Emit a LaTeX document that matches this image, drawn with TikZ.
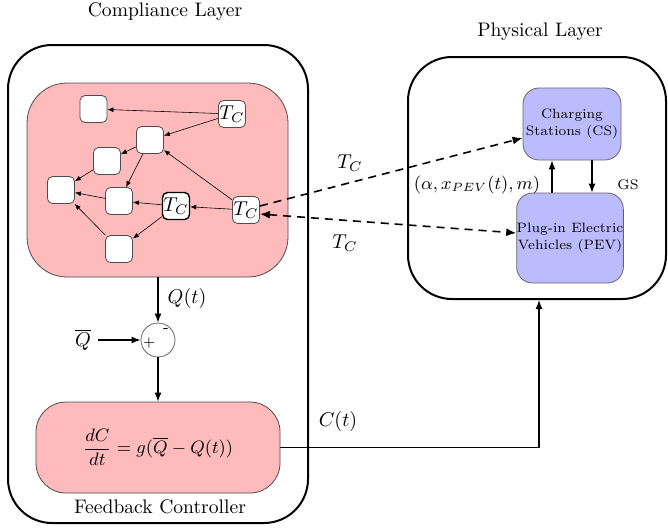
\documentclass[tikz,border=0pt]{standalone}
\usetikzlibrary{arrows.meta}
\definecolor{ctrlpink}{RGB}{255,187,187}
\definecolor{physblue}{RGB}{187,187,255}
\begin{document}
\begin{tikzpicture}[x=0.5pt, y=-0.5pt,
		layer/.style={draw, line width=1pt, rounded corners=22pt, inner sep=0pt},
		block/.style={draw=black!70, line width=0.4pt, fill=ctrlpink, inner sep=0pt},
		agent/.style={draw=black!70, line width=0.4pt, fill=white, rounded corners=2.5pt, minimum size=13.5pt, inner sep=0pt, font=\fontsize{10}{12}\selectfont},
		dev/.style={draw=black!60, line width=0.4pt, fill=physblue, rounded corners=8pt, align=center, inner sep=0pt, font=\fontsize{6.8}{8.4}\selectfont},
		link/.style={line width=0.3pt, -{Latex[length=3pt,width=2.4pt]}},
		flow/.style={line width=0.6pt, -{Latex[length=4.5pt,width=3.5pt]}},
		msg/.style={line width=0.8pt, dash pattern=on 4pt off 3pt},
		lbl/.style={font=\fontsize{10}{12}\selectfont},
		caption/.style={font=\fontsize{9.8}{12}\selectfont}]
	\useasboundingbox (0,0) rectangle (668,527);
	\node[caption] (complbl) at (165,12) {Compliance Layer};
	\node[caption] (physlbl) at (540,32) {Physical Layer};
	\node[layer, minimum width=150pt, minimum height=239pt] (comp) at (158,284) {};
	\node[layer, minimum width=129pt, minimum height=121pt] (phys) at (537,178) {};
	\node[block, rounded corners=20pt, minimum width=130.5pt, minimum height=97pt] (graph) at (157.5,180) {};
	\node[agent] (n1) at (93.5,109) {};
	\node[agent] (tc1) at (232,114) {$T_C$};
	\node[agent] (n2) at (150,140) {};
	\node[agent] (n3) at (107,161) {};
	\node[agent] (n4) at (61,190) {};
	\node[agent] (n5) at (119,201) {};
	\node[agent, draw=black, line width=0.7pt] (tc2) at (176,206) {$T_C$};
	\node[agent] (tc3) at (246,210) {$T_C$};
	\node[agent] (n6) at (119,249) {};
	\draw[link] (tc1) -- (n1);
	\draw[link] (tc1) -- (n2);
	\draw[link] (n2) -- (n3);
	\draw[link] (n2) -- (n5);
	\draw[link] (n3) -- (n4);
	\draw[link] (n5) -- (n4);
	\draw[link] (n6) -- (n4);
	\draw[link] (tc2) -- (n5);
	\draw[link] (tc2) -- (n6);
	\draw[link] (tc3) -- (tc2);
	\draw[link] (tc3) -- (n2);
	\node[circle, draw=black!60, line width=0.4pt, minimum size=17pt, inner sep=0pt] (sum) at (158,340) {};
	\node[font=\fontsize{7}{8}\selectfont, inner sep=0pt] (plus) at (149,343) {+};
	\node[font=\fontsize{8}{8}\selectfont, inner sep=0pt] (minus) at (166,331) {-};
	\node[lbl] (qref) at (83,340) {$\overline{Q}$};
	\node[lbl] (qlbl) at (187,298) {$Q(t)$};
	\node[block, rounded corners=15pt, minimum width=122pt, minimum height=45.5pt, font=\fontsize{9.4}{11}\selectfont] (fb) at (158,447.5) {$\displaystyle\frac{dC}{dt}=g(\overline{Q}-Q(t))$};
	\node[caption] (fblbl) at (160,507) {Feedback Controller};
	\draw[flow] (graph.south -| sum.north) -- (sum.north);
	\draw[flow] (qref.east) -- (sum.west);
	\draw[flow] (sum.south) -- (sum.south |- fb.north);
	\coordinate (cin) at (539,0);
	\draw[flow] (fb.east) -| (cin |- phys.south);
	\node[lbl] (clbl) at (338,421) {$C(t)$};
	\node[dev, minimum width=49pt, minimum height=36pt] (cs) at (572,124) {Charging\\Stations (CS)};
	\node[dev, minimum width=52pt, minimum height=45pt] (pev) at (570,238) {Plug-in Electric\\Vehicles (PEV)};
	\coordinate (up) at (552,0);
	\coordinate (down) at (592,0);
	\draw[flow] (up |- pev.north) -- (up |- cs.south);
	\draw[flow] (down |- cs.south) -- (down |- pev.north);
	\node[font=\fontsize{7}{9}\selectfont] (gs) at (628,185) {GS};
	\node[font=\fontsize{9}{11}\selectfont] (alpha) at (477,185) {$(\alpha,x_{PEV}(t),m)$};
	\draw[msg, -{Latex[length=5pt,width=4pt]}] ([yshift=2pt]tc3.east) -- ([yshift=-7pt]cs.west);
	\draw[msg, {Latex[length=5pt,width=4pt]}-{Latex[length=5pt,width=4pt]}] ([yshift=-2pt]tc3.east) -- ([yshift=2.5pt]pev.west);
	\node[lbl] (tcup) at (350,163) {$T_C$};
	\node[lbl] (tcdown) at (345,243) {$T_C$};
\end{tikzpicture}
\end{document}
